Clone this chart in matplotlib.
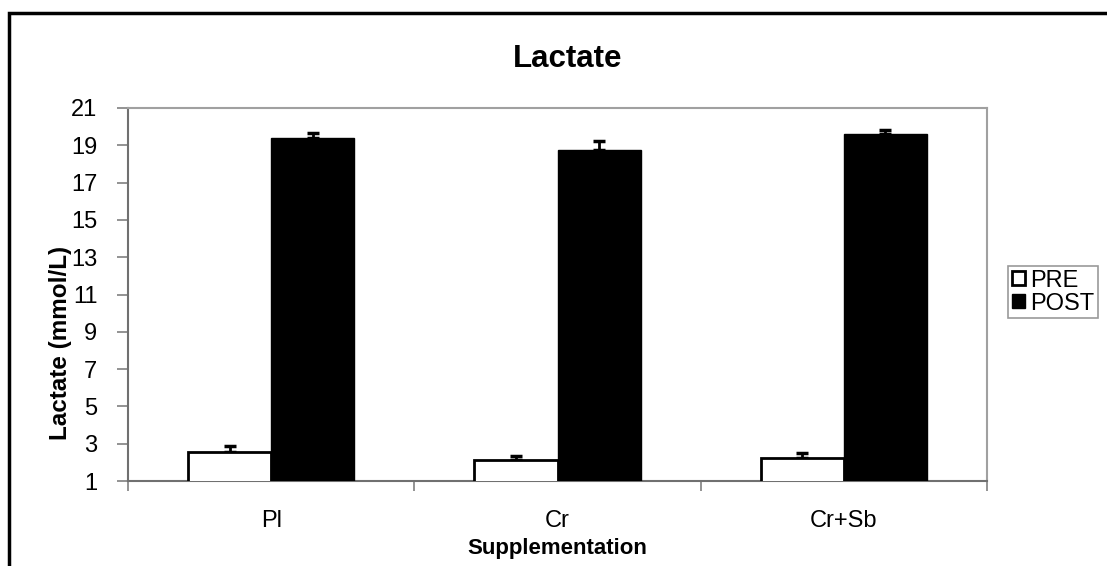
import matplotlib
matplotlib.use("Agg")
import matplotlib.pyplot as plt
import numpy as np
from matplotlib.patches import Rectangle

# lactate means and SEM (mmol/L)
groups = ["Pl", "Cr", "Cr+Sb"]
pre_mean = [2.55, 2.15, 2.25]
pre_err = [0.32, 0.18, 0.25]
post_mean = [19.4, 18.77, 19.6]
post_err = [0.28, 0.45, 0.24]
y_ticks = [1, 3, 5, 7, 9, 11, 13, 15, 17, 19, 21]

plt.rcParams['font.family'] = ['Liberation Sans', 'DejaVu Sans']

fig = plt.figure(figsize=(11.07, 5.66), dpi=100)
ax = fig.add_axes([128 / 1107, 1 - 481 / 566, (987 - 128) / 1107, (481 - 108) / 566])

x = np.arange(len(groups))
w = 0.29
err_style = dict(ecolor='black', elinewidth=2, capsize=4.5, capthick=2.5)

ax.bar(x - w / 2, pre_mean, w, bottom=0, color='white', edgecolor='black',
       linewidth=2, label='PRE', zorder=3)
ax.errorbar(x - w / 2, pre_mean, yerr=[np.zeros(3), pre_err], fmt='none',
            zorder=2, **err_style)
ax.bar(x + w / 2, post_mean, w, color='black', edgecolor='black',
       linewidth=1, label='POST', zorder=3)
ax.errorbar(x + w / 2, post_mean, yerr=[np.zeros(3), post_err], fmt='none',
            zorder=2, **err_style)

ax.set_xlim(-0.5, 2.5)
ax.set_ylim(1, 21)
ax.set_yticks(y_ticks)
ax.set_xticks(x)
ax.set_xticklabels(groups)
ax.set_xticks([-0.5, 0.5, 1.5, 2.5], minor=True)
ax.tick_params(axis='x', which='major', length=0, labelsize=17, pad=21)
ax.tick_params(axis='x', which='minor', length=7, width=1.2, color='#808080',
               direction='out')
ax.tick_params(axis='y', length=8, width=1.2, color='#808080', direction='out',
               labelsize=17, pad=14)

for side in ['left', 'bottom']:
    ax.spines[side].set_color('#707070')
    ax.spines[side].set_linewidth(1.5)
for side in ['top', 'right']:
    ax.spines[side].set_color('#a0a0a0')
    ax.spines[side].set_linewidth(1.5)

ax.set_ylabel("Lactate (mmol/L)", fontsize=17.5, fontweight='bold')
ax.yaxis.set_label_coords(-0.079, 0.37)
ax.yaxis.label.set_va('center')
ax.set_xlabel("Supplementation", fontsize=16, fontweight='bold')
ax.xaxis.set_label_coords(0.5, -0.18)
ax.xaxis.label.set_va('center')

fig.text(568 / 1107, 1 - 59 / 566, "Lactate", fontsize=22.5, fontweight='bold',
         ha='center', va='center')

leg = fig.legend(loc='upper left', bbox_to_anchor=(1008 / 1107, 1 - 266 / 566),
                 fontsize=17, frameon=True, fancybox=False, handlelength=0.55,
                 handleheight=0.55, handletextpad=0.25, borderpad=0.15,
                 labelspacing=0.05, borderaxespad=0)
leg.get_frame().set_edgecolor('#808080')
leg.get_frame().set_linewidth(1.2)

# chart border running off the right and bottom edges
fig.patches.append(Rectangle((9 / 1107, -0.1), 1.2, 1 - 13 / 566 + 0.1,
                             transform=fig.transFigure, fill=False,
                             edgecolor='black', linewidth=2.5))

fig.savefig("out.png", dpi=100)
